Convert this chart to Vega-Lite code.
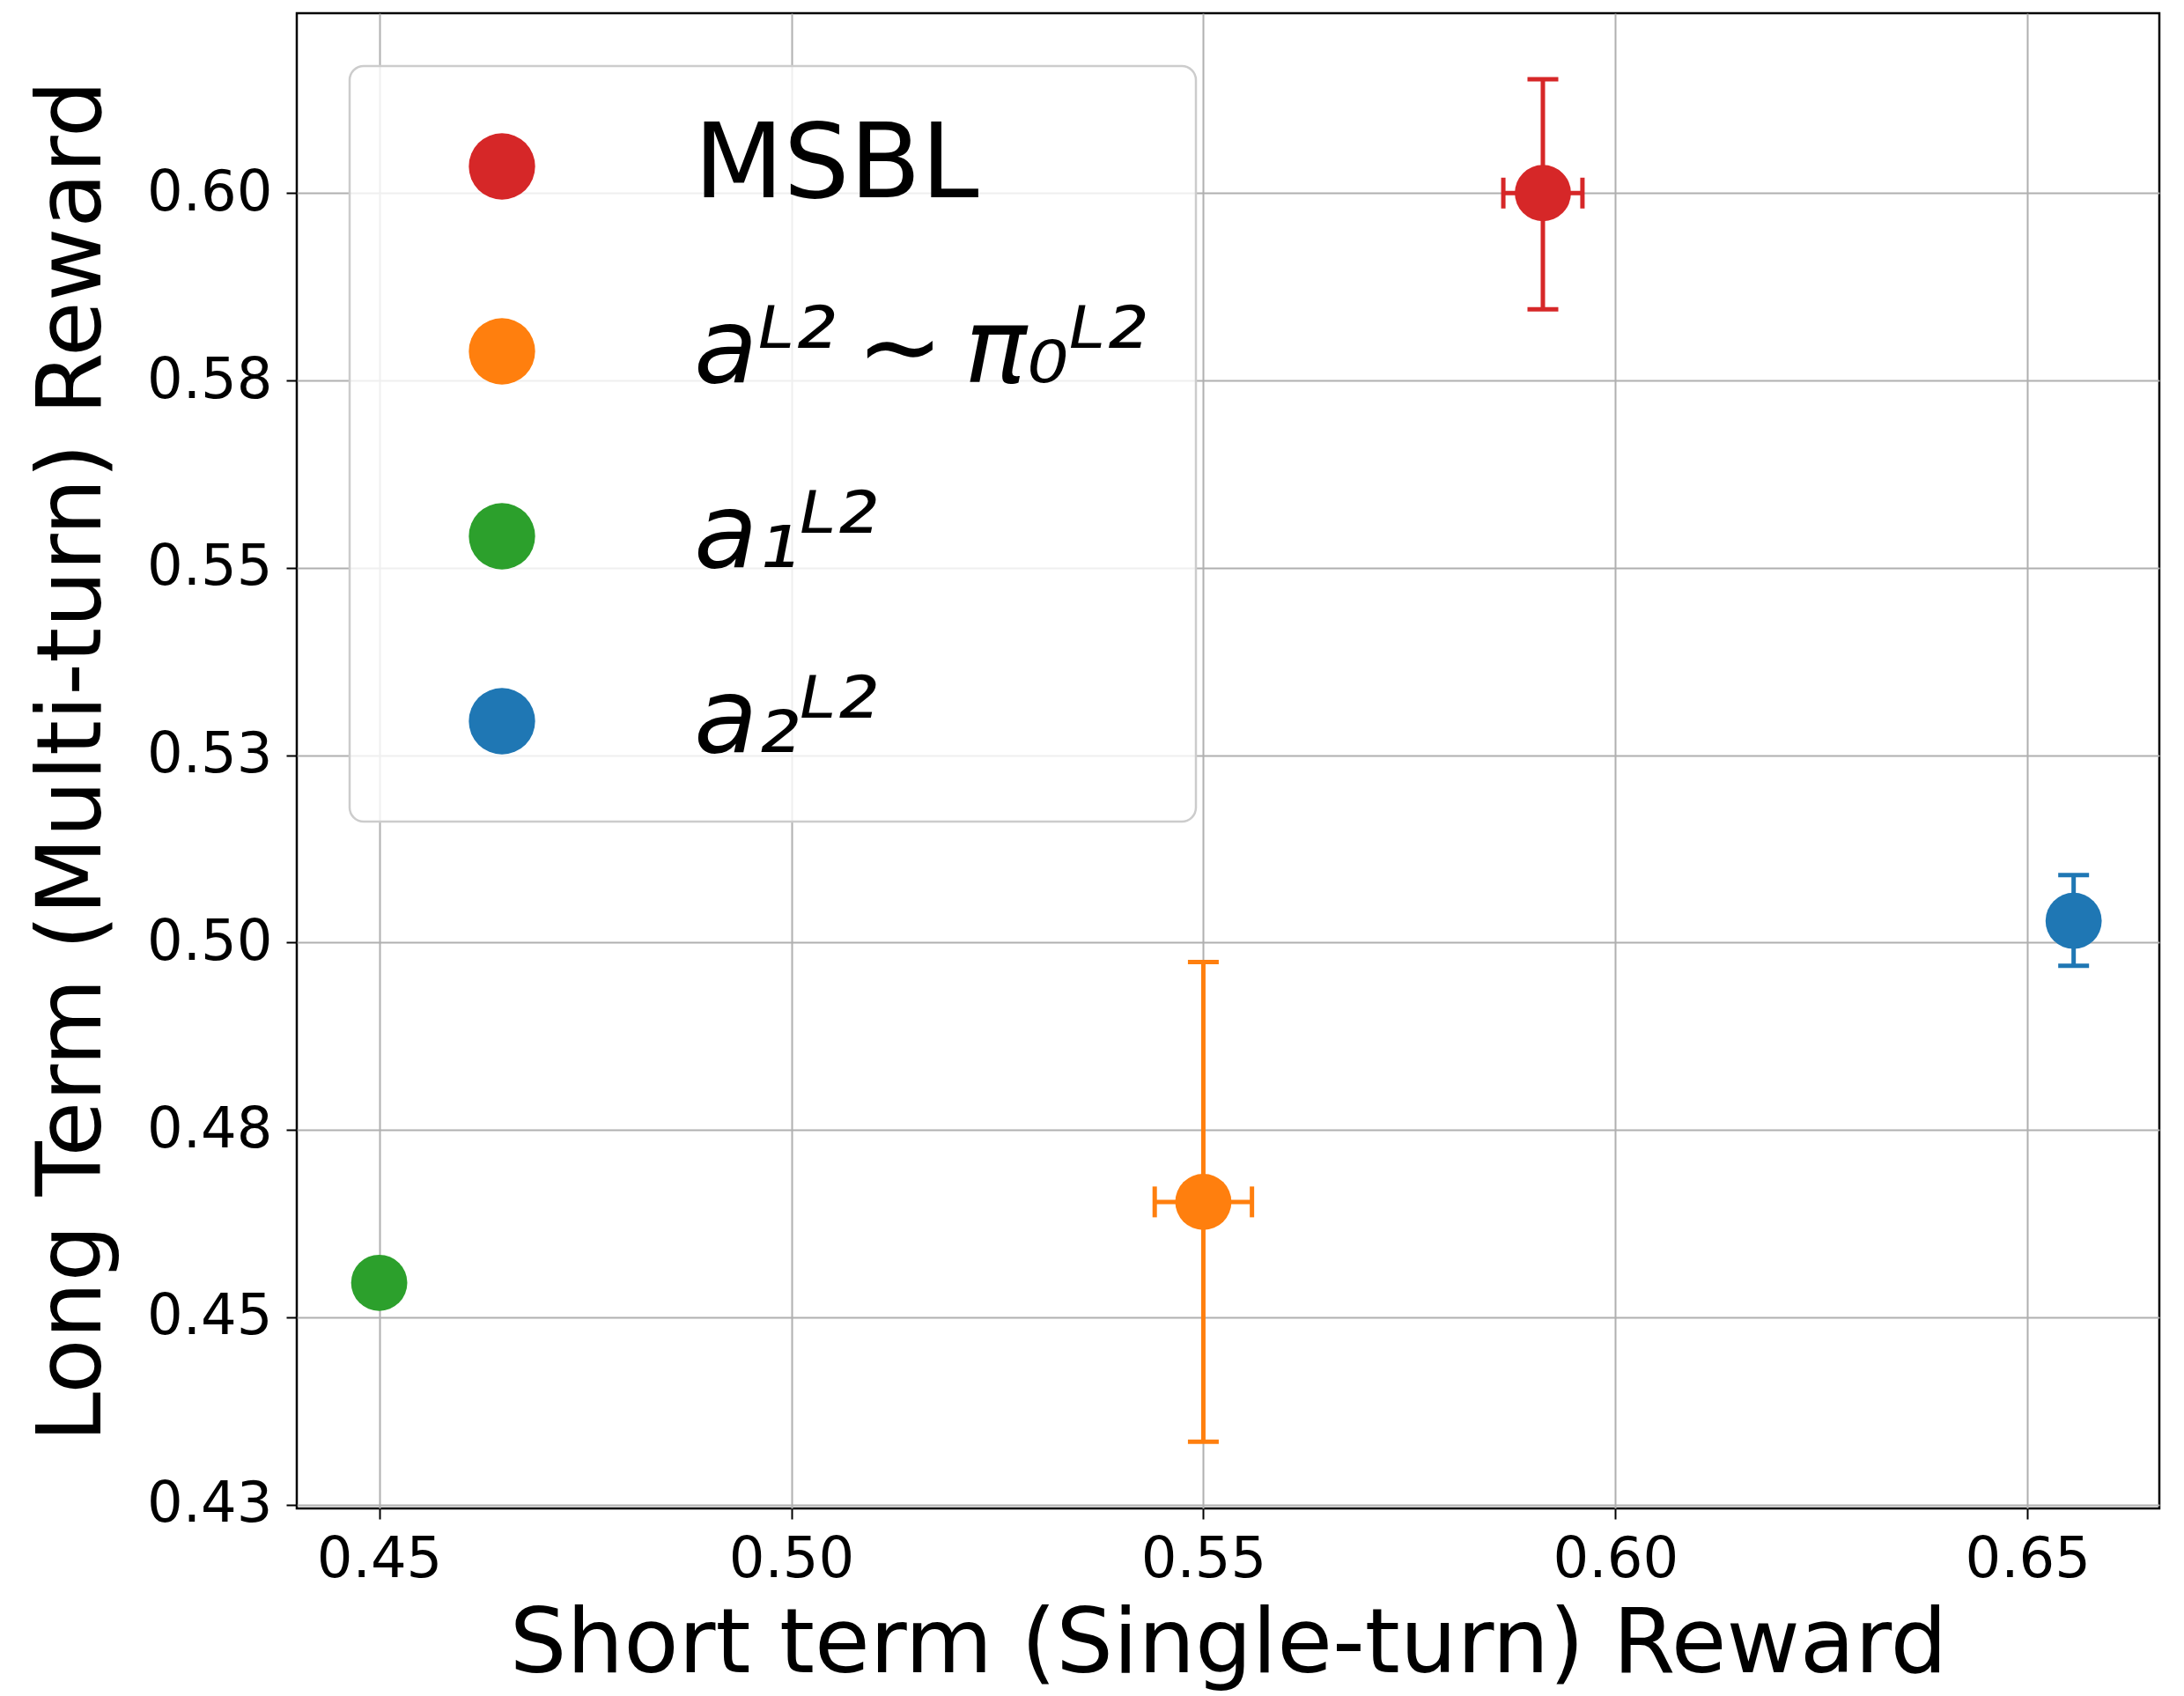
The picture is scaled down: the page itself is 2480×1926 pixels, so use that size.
{
  "$schema": "https://vega.github.io/schema/vega-lite/v6.json",
  "width": 2115,
  "height": 1698,
  "autosize": {"type": "none"},
  "padding": {"left": 337, "top": 15, "right": 28, "bottom": 213},
  "background": "white",
  "view": {"stroke": "black", "strokeWidth": 2.5},
  "datasets": {
    "points": [
      {"method": "MSBL", "x": 0.5912, "y": 0.6000},
      {"method": "aᴸ² ∼ π₀ᴸ²", "x": 0.5500, "y": 0.4654},
      {"method": "a₁ᴸ²", "x": 0.4500, "y": 0.4546},
      {"method": "a₂ᴸ²", "x": 0.6556, "y": 0.5029}
    ],
    "yerr": [
      {"series": "red", "x": 0.5912, "ylo": 0.5845, "yhi": 0.6152},
      {"series": "orange", "x": 0.5500, "ylo": 0.4334, "yhi": 0.4974},
      {"series": "blue", "x": 0.6556, "ylo": 0.4969, "yhi": 0.5090}
    ],
    "xerr": [
      {"series": "red", "y": 0.6000, "xlo": 0.5864, "xhi": 0.5960},
      {"series": "orange", "y": 0.4654, "xlo": 0.5441, "xhi": 0.5559}
    ]
  },
  "encoding": {
    "x": {"type": "quantitative", "title": "Short term (Single-turn) Reward", "scale": {"domain": [0.44, 0.666], "nice": false, "zero": false},
      "axis": {"values": [0.45, 0.5, 0.55, 0.6, 0.65], "format": ".2f"}},
    "y": {"type": "quantitative", "title": "Long Term (Multi-turn) Reward", "scale": {"domain": [0.4245, 0.624], "nice": false, "zero": false},
      "axis": {"values": [0.425, 0.45, 0.475, 0.5, 0.525, 0.55, 0.575, 0.6], "labelExpr": "format(datum.value + 0.0001, '.2f')"}}
  },
  "layer": [
    {
      "data": {"name": "yerr"},
      "mark": {"type": "rule", "strokeWidth": 5},
      "encoding": {
        "x": {"field": "x"},
        "y": {"field": "ylo"},
        "y2": {"field": "yhi"},
        "stroke": {"field": "series", "type": "nominal", "legend": null, "scale": {"domain": ["red", "orange", "blue"], "range": ["#d62728", "#ff7f0e", "#1f77b4"]}}
      }
    },
    {
      "data": {"name": "yerr"},
      "mark": {"type": "point", "shape": "M-1,0H1", "filled": false, "size": 1225, "strokeWidth": 5, "opacity": 1},
      "encoding": {
        "x": {"field": "x"},
        "y": {"field": "ylo"},
        "stroke": {"field": "series", "type": "nominal", "legend": null}
      }
    },
    {
      "data": {"name": "yerr"},
      "mark": {"type": "point", "shape": "M-1,0H1", "filled": false, "size": 1225, "strokeWidth": 5, "opacity": 1},
      "encoding": {
        "x": {"field": "x"},
        "y": {"field": "yhi"},
        "stroke": {"field": "series", "type": "nominal", "legend": null}
      }
    },
    {
      "data": {"name": "xerr"},
      "mark": {"type": "rule", "strokeWidth": 5},
      "encoding": {
        "y": {"field": "y"},
        "x": {"field": "xlo"},
        "x2": {"field": "xhi"},
        "stroke": {"field": "series", "type": "nominal", "legend": null}
      }
    },
    {
      "data": {"name": "xerr"},
      "mark": {"type": "point", "shape": "M0,-1V1", "filled": false, "size": 1225, "strokeWidth": 5, "opacity": 1},
      "encoding": {
        "y": {"field": "y"},
        "x": {"field": "xlo"},
        "stroke": {"field": "series", "type": "nominal", "legend": null}
      }
    },
    {
      "data": {"name": "xerr"},
      "mark": {"type": "point", "shape": "M0,-1V1", "filled": false, "size": 1225, "strokeWidth": 5, "opacity": 1},
      "encoding": {
        "y": {"field": "y"},
        "x": {"field": "xhi"},
        "stroke": {"field": "series", "type": "nominal", "legend": null}
      }
    },
    {
      "data": {"name": "points"},
      "mark": {"type": "point", "filled": true, "shape": "circle", "size": 4070, "opacity": 1},
      "encoding": {
        "x": {"field": "x"},
        "y": {"field": "y"},
        "color": {
          "field": "method", "type": "nominal",
          "scale": {"domain": ["MSBL", "aᴸ² ∼ π₀ᴸ²", "a₁ᴸ²", "a₂ᴸ²"], "range": ["#d62728", "#ff7f0e", "#2ca02c", "#1f77b4"]},
          "legend": {
            "title": null,
            "orient": "top-left",
            "offset": 60,
            "labelExpr": "replace(datum.label, / /g, '\u2009')",
            "labelFontStyle": {"expr": "datum.label == 'MSBL' ? 'normal' : 'italic'"}
          }
        }
      }
    }
  ],
  "config": {
    "font": "DejaVu Sans",
    "axis": {
      "labelFont": "DejaVu Sans",
      "labelFontSize": 64,
      "labelColor": "black",
      "titleFont": "DejaVu Sans",
      "titleFontSize": 102,
      "titleFontWeight": "normal",
      "titleColor": "black",
      "grid": true,
      "gridColor": "#b0b0b0",
      "gridWidth": 2,
      "tickColor": "black",
      "tickWidth": 2,
      "tickSize": 12,
      "domain": false
    },
    "axisX": {
      "labelPadding": 14,
      "titlePadding": 14
    },
    "axisY": {
      "labelPadding": 16,
      "titlePadding": 32
    },
    "legend": {
      "labelFont": "DejaVu Sans",
      "labelFontSize": 118,
      "labelColor": "black",
      "labelLimit": 3000,
      "symbolSize": 5675,
      "symbolType": "circle",
      "symbolOffset": 59,
      "labelOffset": 159,
      "padding": 55,
      "rowPadding": 92,
      "strokeColor": "#cccccc",
      "strokeWidth": 2.5,
      "cornerRadius": 16,
      "fillColor": "rgba(255,255,255,0.8)"
    }
  }
}
